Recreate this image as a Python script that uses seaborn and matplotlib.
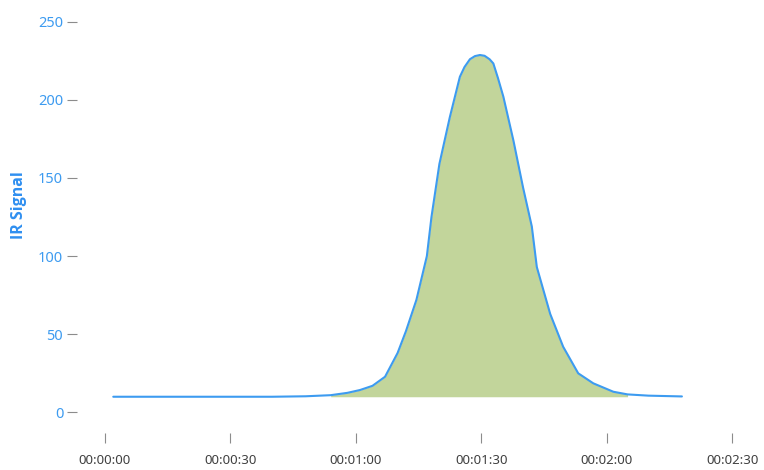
import matplotlib
matplotlib.use('Agg')
import matplotlib.pyplot as plt
import seaborn as sns
import pandas as pd
import numpy as np

# señal IR (segundos, valor)
seconds = [2, 10, 20, 30, 40, 48, 54, 58, 61, 64, 67, 70, 72, 74.5, 77, 78.1, 80,
           82.5, 84.9, 86, 87.3, 88.5, 89.7, 90.8, 92, 92.9, 94, 95.3, 97.7, 100,
           102.1, 103.3, 106.5, 109.6, 113.2, 116.8, 121.6, 125, 130, 138]
signal = [10, 10, 10, 10, 10, 10.3, 11, 12.5, 14.3, 17, 22.8, 38, 52, 72, 100, 125, 159,
          189, 214.8, 221, 226, 228, 228.7, 228.2, 226, 223.3, 214, 202, 174, 144,
          119, 93, 63, 42, 25, 18.6, 13.2, 11.5, 10.7, 10.2]

# zona integrada del pico
peak_start = 54
peak_end = 125
baseline = 10

x_ticks = [0, 30, 60, 90, 120, 150]
x_tick_labels = ["00:00:00", "00:00:30", "00:01:00", "00:01:30", "00:02:00", "00:02:30"]
y_ticks = [0, 50, 100, 150, 200, 250]

df = pd.DataFrame({"t": seconds, "ir": signal})

sns.set_theme(style="white")
plt.rcParams['font.family'] = ['Noto Sans', 'DejaVu Sans']

fig = plt.figure(figsize=(7.64, 4.70), dpi=100)
ax = fig.add_axes([77.3 / 764, 1 - 433 / 470, (753 - 77.3) / 764, (433 - 10) / 470])

mask = (df["t"] >= peak_start) & (df["t"] <= peak_end)
ax.fill_between(df["t"], baseline, df["ir"], where=mask, color="#c2d59b", linewidth=0, zorder=1)
sns.lineplot(data=df, x="t", y="ir", ax=ax, color="#3d9bf0", linewidth=1.5, zorder=2)

ax.set_xlim(-6.6, 155)
ax.set_ylim(-13.2, 257.5)
ax.set_xticks(x_ticks)
ax.set_xticklabels(x_tick_labels)
ax.set_yticks(y_ticks)

for s in ax.spines.values():
    s.set_visible(False)

ax.tick_params(axis='x', direction='out', length=7.2, width=0.8, color='#8c8c8c',
               bottom=True, pad=8, labelsize=9.5, labelcolor='#404040')
ax.tick_params(axis='y', direction='out', length=7.2, width=0.8, color='#8c8c8c',
               left=True, pad=3, labelsize=10.5, labelcolor='#3d9bf0')

ax.set_xlabel("")
ax.set_ylabel("IR Signal", fontsize=11.5, fontweight='bold', color='#2f8ff0',
              family=['Open Sans', 'DejaVu Sans'])
ax.yaxis.set_label_coords(-0.075, 0.539)

plt.savefig("out.png", dpi=100)
plt.close()
